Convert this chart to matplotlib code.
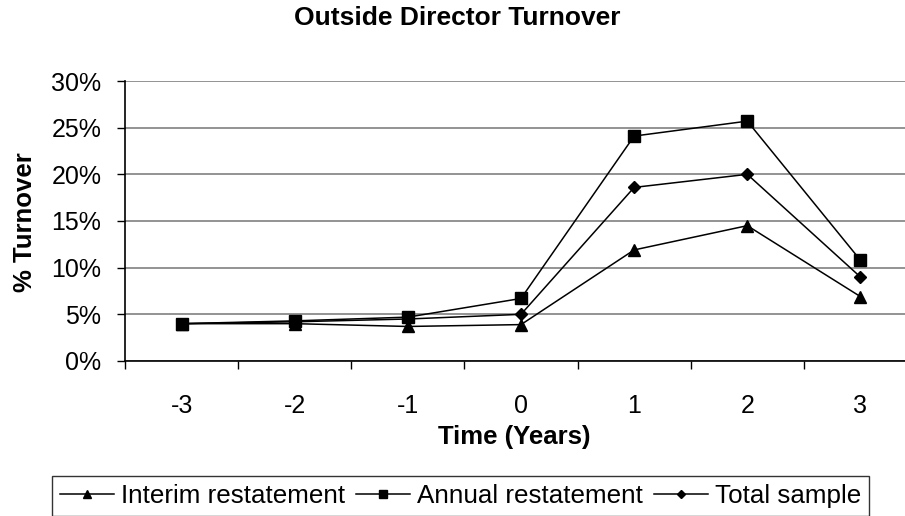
import matplotlib
matplotlib.use("Agg")
import matplotlib.pyplot as plt
import numpy as np

plt.rcParams['font.family'] = ['Liberation Sans', 'DejaVu Sans']

years = [-3, -2, -1, 0, 1, 2, 3]
interim = [4.0, 4.0, 3.7, 3.9, 11.9, 14.5, 6.9]
annual = [4.0, 4.3, 4.7, 6.7, 24.1, 25.7, 10.8]
total = [4.0, 4.2, 4.5, 5.0, 18.6, 20.0, 9.0]
ytick_vals = [0, 5, 10, 15, 20, 25, 30]

fig = plt.figure(figsize=(9.05, 5.16), dpi=100)
ax = fig.add_axes([125/905, 155/516, 792/905, 280/516])

ax.plot(years, interim, color='black', lw=1.1, marker='^', ms=8, label='Interim restatement')
ax.plot(years, annual, color='black', lw=1.1, marker='s', ms=9, label='Annual restatement')
ax.plot(years, total, color='black', lw=1.1, marker='D', ms=6, label='Total sample')

ax.set_xlim(-3.5, 3.5)
ax.set_ylim(0, 30)
ax.set_yticks(ytick_vals)
ax.set_yticklabels([f"{v}%" for v in ytick_vals], fontsize=18)
ax.yaxis.grid(True, color='#808080', lw=1.2)
ax.set_axisbelow(True)

ax.set_xticks(years)
ax.set_xticklabels([str(y) for y in years], fontsize=18)
ax.set_xticks(np.arange(-3.5, 4, 1), minor=True)
ax.tick_params(axis='x', which='major', length=0, pad=24)
ax.tick_params(axis='x', which='minor', length=6, direction='out', width=1)
ax.tick_params(axis='y', length=6, direction='out', width=1, pad=11)

for s in ['top', 'right']:
    ax.spines[s].set_visible(False)
for s in ['left', 'bottom']:
    ax.spines[s].set_linewidth(1.2)

fig.text(457/905, 1 - 18/516, 'Outside Director Turnover', ha='center', va='center',
         fontsize=19, fontweight='bold')
fig.text(514/905, 1 - 437/516, 'Time (Years)', ha='center', va='center',
         fontsize=18.5, fontweight='bold')
fig.text(25/905, 1 - 222/516, '% Turnover', ha='center', va='center', rotation=90,
         fontsize=18.5, fontweight='bold')

leg = fig.legend(loc='upper left', bbox_to_anchor=(52/905, 1 - 476/516), ncol=3,
                 fontsize=18.7, frameon=True, fancybox=False, edgecolor='black',
                 handlelength=2.1, handletextpad=0.27, columnspacing=0.4,
                 borderpad=0.3, borderaxespad=0, markerscale=0.65)
leg.get_frame().set_linewidth(1.0)

fig.savefig('out.png', dpi=100)
